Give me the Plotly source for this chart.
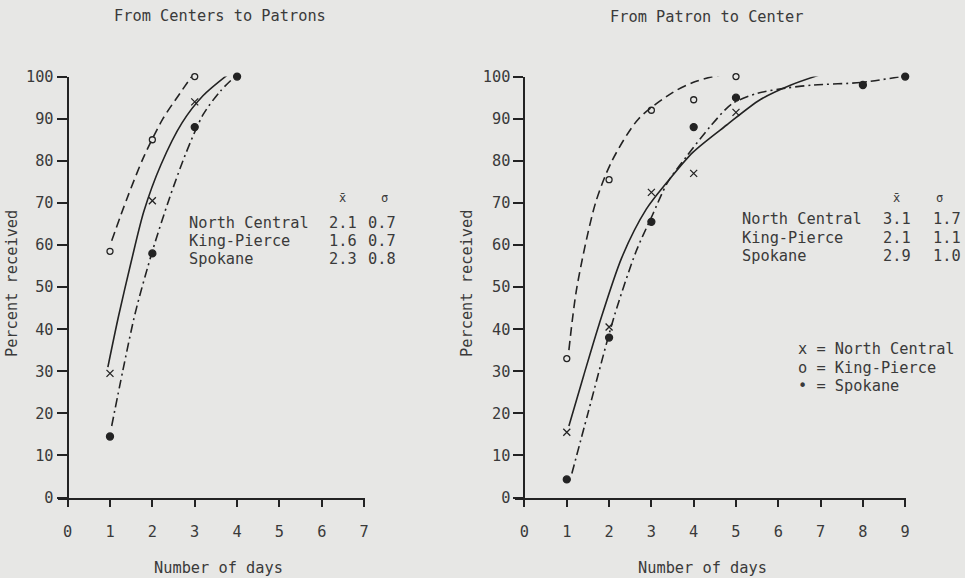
import plotly.graph_objects as go

# ---------------- data ----------------
days_left = [0, 1, 2, 3, 4, 5, 6, 7]
days_right = [0, 1, 2, 3, 4, 5, 6, 7, 8, 9]
y_ticks = [0, 10, 20, 30, 40, 50, 60, 70, 80, 90, 100]

# Left panel: From Centers to Patrons
l_nc_x = [1, 2, 3, 4]
l_nc_y = [29.5, 70.5, 94, 101]
l_kp_x = [1, 2, 3]
l_kp_y = [58.5, 85, 100]
l_sp_x = [1, 2, 3, 4]
l_sp_y = [14.5, 58, 88, 100]

# fitted curves (left)
l_nc_cx = [0.95, 1.2, 1.5, 1.8, 2.2, 2.7, 3.2, 3.85]
l_nc_cy = [31, 43, 56, 68, 79, 89, 95.5, 101]
l_kp_cx = [1.04, 1.4, 1.8, 2.25, 2.65, 2.96]
l_kp_cy = [61, 71, 81, 90, 96, 100.5]
l_sp_cx = [1.04, 1.3, 1.6, 2.0, 2.4, 2.8, 3.2, 3.6, 3.95]
l_sp_cy = [17, 30, 44, 58.5, 71, 82, 91, 96.5, 100]

# Right panel: From Patron to Center
r_nc_x = [1, 2, 3, 4, 5, 7]
r_nc_y = [15.5, 40.5, 72.5, 77, 91.5, 100.5]
r_kp_x = [1, 2, 3, 4, 5]
r_kp_y = [33, 75.5, 92, 94.5, 100]
r_sp_x = [1, 2, 3, 4, 5, 8, 9]
r_sp_y = [4.3, 38, 65.5, 88, 95, 98, 100]

# fitted curves (right)
r_nc_cx = [1.05, 1.4, 1.76, 2.3, 2.88, 3.38, 3.98, 4.78, 5.57, 6.3, 6.95]
r_nc_cy = [17, 29, 41, 57, 68.5, 75, 82, 88.5, 94.5, 98, 100.3]
r_kp_cx = [1.05, 1.24, 1.68, 2.07, 2.7, 3.5, 3.98, 4.45, 4.9]
r_kp_cy = [35, 50, 70, 80, 90, 96.2, 98.6, 100, 100.8]
r_sp_cx = [1.12, 1.5, 2.12, 2.64, 3.02, 3.38, 3.83, 4.38, 4.9, 5.5, 6.2, 6.83, 7.95, 8.9]
r_sp_cy = [5.7, 20, 43, 58.5, 67, 74.8, 81, 88, 93.5, 96, 97.3, 98, 98.6, 100]

stats_names = ["North Central", "King-Pierce", "Spokane"]
left_mean = ["2.1", "1.6", "2.3"]
left_sd = ["0.7", "0.7", "0.8"]
right_mean = ["3.1", "2.1", "2.9"]
right_sd = ["1.7", "1.1", "1.0"]

# ---------------- styling ----------------
W, H = 965, 578
BG = "#e7e7e5"
INK = "#232323"
TXT = "#3a3a3a"
FONT = "DejaVu Sans Mono"
FS = 15.3

# compensation between layout pixels and photographed pixels
SX, OX = 0.994, 0.5
SY, OY = 0.969, 8.4

def lx(t):
    return (t - OX) / SX

def ly(t):
    return (t - OY) / SY

def px_x(t):
    return lx(t) / W

def px_y(t):
    return 1 - ly(t) / H

fig = go.Figure()

def curve(x, y, dash, xa, ya):
    fig.add_trace(go.Scatter(x=x, y=y, mode="lines", xaxis=xa, yaxis=ya,
                             line=dict(color=INK, width=1.6, dash=dash, shape="spline", smoothing=0.8),
                             cliponaxis=False, hoverinfo="skip"))

def pts(x, y, symbol, size, xa, ya):
    fig.add_trace(go.Scatter(x=x, y=y, mode="markers", xaxis=xa, yaxis=ya,
                             marker=dict(symbol=symbol, size=size, color=INK,
                                         line=dict(color=INK, width=1.3)),
                             cliponaxis=False))

SOLID = "solid"
DASH = "9px,5px"
DASHDOT = "9px,4px,2px,4px"

# left panel
curve(l_nc_cx, l_nc_cy, SOLID, "x", "y")
curve(l_kp_cx, l_kp_cy, DASH, "x", "y")
curve(l_sp_cx, l_sp_cy, DASHDOT, "x", "y")
pts(l_nc_x, l_nc_y, "x-thin", 7, "x", "y")
pts(l_kp_x, l_kp_y, "circle-open", 6, "x", "y")
pts(l_sp_x, l_sp_y, "circle", 7, "x", "y")

# right panel
curve(r_nc_cx, r_nc_cy, SOLID, "x2", "y2")
curve(r_kp_cx, r_kp_cy, DASH, "x2", "y2")
curve(r_sp_cx, r_sp_cy, DASHDOT, "x2", "y2")
pts(r_nc_x, r_nc_y, "x-thin", 7, "x2", "y2")
pts(r_kp_x, r_kp_y, "circle-open", 6, "x2", "y2")
pts(r_sp_x, r_sp_y, "circle", 7, "x2", "y2")

# axis geometry (target pixels in the picture)
L_Y0 = 68; L_X7 = 364; L_START = 58; L_END = 365
R_Y0 = 524; R_X9 = 904; R_START = 515; R_END = 905
Y_BOTTOM = 497; Y_TOP = 76

ydom = [px_y(Y_BOTTOM), px_y(Y_TOP)]

def xaxis(start, end, y0, xmax_px, xmax, ticks, anchor):
    ppd = (xmax_px - y0) / xmax
    return dict(domain=[px_x(start), px_x(end)],
                range=[(start - y0) / ppd, (end - y0) / ppd],
                tickmode="array", tickvals=ticks, ticktext=[str(t) for t in ticks],
                ticks="outside", ticklen=7, tickwidth=2, tickcolor=INK,
                showline=True, linecolor=INK, linewidth=2,
                showgrid=False, zeroline=False, anchor=anchor,
                tickfont=dict(family=FONT, size=FS, color=TXT),
                ticklabelstandoff=12)

def yaxis(pos):
    return dict(domain=ydom, range=[0, 100], anchor="free", position=px_x(pos),
                tickmode="array", tickvals=y_ticks, ticktext=[str(t) for t in y_ticks],
                ticks="outside", ticklen=10, tickwidth=2, tickcolor=INK,
                showline=True, linecolor=INK, linewidth=2,
                showgrid=False, zeroline=False,
                tickfont=dict(family=FONT, size=FS, color=TXT))

annotations = []

def txt(s, x, y, anchor="left", size=FS, angle=0):
    annotations.append(dict(text=s, x=px_x(x), y=px_y(y), xref="paper", yref="paper",
                            xanchor=anchor, yanchor="middle", showarrow=False,
                            textangle=angle,
                            font=dict(family=FONT, size=size, color=TXT)))

# titles
txt("From Centers to Patrons", 112, 15)
txt("From Patron to Center", 607, 16)
# axis titles
txt("Percent received", 12, 283, anchor="center", angle=-90)
txt("Percent received", 466, 283, anchor="center", angle=-90)
txt("Number of days", 219, 567, anchor="center")
txt("Number of days", 702, 567, anchor="center")

# left stats table
txt("x\u0304", 342, 197, anchor="center", size=12)
txt("\u03c3", 384, 197, anchor="center", size=12)
for i, (n, m, s) in enumerate(zip(stats_names, left_mean, left_sd)):
    yy = [222, 240, 258][i]
    txt(n, 187, yy)
    txt(m, 327, yy)
    txt(s, 366, yy)

# right stats table
txt("x\u0304", 895, 197, anchor="center", size=12)
txt("\u03c3", 938, 197, anchor="center", size=12)
for i, (n, m, s) in enumerate(zip(stats_names, right_mean, right_sd)):
    yy = [218, 237, 255][i]
    txt(n, 739, yy)
    txt(m, 880, yy)
    txt(s, 930, yy)

# key
for i, (sym, n) in enumerate(zip(["x", "o", "\u2022"], stats_names)):
    yy = [348, 367, 385][i]
    txt(sym + " = " + n, 795, yy)

fig.update_layout(
    width=W, height=H,
    margin=dict(l=0, r=0, t=0, b=0),
    paper_bgcolor=BG, plot_bgcolor=BG,
    showlegend=False,
    xaxis=xaxis(L_START, L_END, L_Y0, L_X7, 7, days_left, "y"),
    yaxis=yaxis(L_Y0),
    xaxis2=xaxis(R_START, R_END, R_Y0, R_X9, 9, days_right, "y2"),
    yaxis2=yaxis(R_Y0),
    annotations=annotations,
)

fig.write_html("out.html", config={"displayModeBar": False},
               post_script="document.body.style.margin='0';document.body.style.overflow='hidden';document.body.style.background='" + BG + "';")
